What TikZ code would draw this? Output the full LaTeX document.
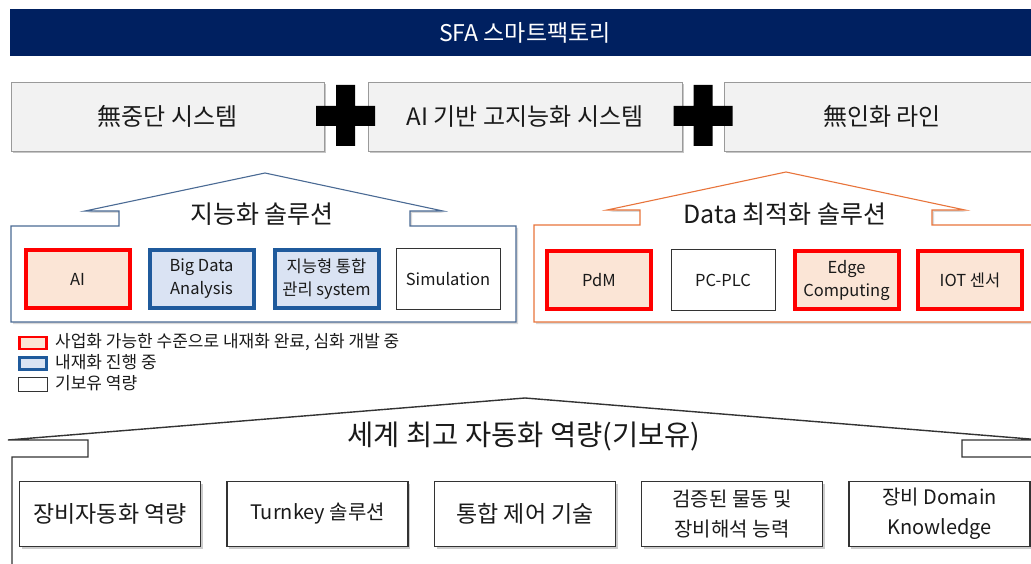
\documentclass[tikz,border=0pt]{standalone}
\usepackage{fontspec}
\setmainfont{Noto Sans CJK KR}
\usetikzlibrary{shadows}
\definecolor{sfanavy}{HTML}{002060}
\definecolor{boxgray}{HTML}{F2F2F2}
\definecolor{edgegray}{HTML}{9A9A9A}
\definecolor{roofblue}{HTML}{4A6A94}
\definecolor{rooforange}{HTML}{E8743B}
\definecolor{donered}{HTML}{FF0000}
\definecolor{donefill}{HTML}{FBE5D6}
\definecolor{wipblue}{HTML}{1F5A9C}
\definecolor{wipfill}{HTML}{DAE3F3}
\definecolor{inkgray}{HTML}{1A1A1A}
\begin{document}
\begin{tikzpicture}[x=1pt,y=-1pt,
    topbar/.style={fill=sfanavy,text=white,minimum width=1030pt,minimum height=47pt,font=\fontsize{23}{27}\selectfont},
    sysbox/.style={draw=edgegray,fill=boxgray,line width=0.8pt,minimum height=69pt,text=inkgray,font=\fontsize{24}{28}\selectfont,
        drop shadow={shadow xshift=2pt,shadow yshift=-2pt,opacity=0.45}},
    housetitle/.style={text=inkgray,font=\fontsize{25}{30}\selectfont},
    solbox/.style={minimum width=104pt,minimum height=58pt,align=center,text=inkgray,font=\fontsize{16.5}{23}\selectfont},
    redbox/.style={solbox,draw=donered,fill=donefill,line width=4pt},
    bluebox/.style={solbox,draw=wipblue,fill=wipfill,line width=4pt},
    plainbox/.style={solbox,draw=black!80,fill=white,line width=1pt,minimum width=104pt,minimum height=60pt},
    keybox/.style={minimum width=27pt,minimum height=12pt,inner sep=0pt},
    keytext/.style={anchor=west,inner sep=0pt,text=inkgray,font=\fontsize{17}{19}\selectfont},
    basebox/.style={draw=black!80,fill=white,line width=1.4pt,minimum width=181pt,minimum height=65pt,align=center,
        text=inkgray,font=\fontsize{20}{30}\selectfont,drop shadow={shadow xshift=2pt,shadow yshift=-2pt,opacity=0.4}}]
    \clip (0,0) rectangle (1031,564);
    % Title bar
    \node[topbar] (sfa) at (525,32.5) {SFA 스마트팩토리};
    % Systems
    \node[sysbox,minimum width=313pt] (nonstop) at (167.5,116.5) {無중단 시스템};
    \node[sysbox,minimum width=314pt] (aibased) at (525,116.5) {AI 기반 고지능화 시스템};
    \node[sysbox,minimum width=316pt] (unmanned) at (882,116.5) {無인화 라인};
    % Plus signs
    \foreach \px in {345.5,703}
        \fill[black] (\px-9.5,85) rectangle (\px+9.5,146) (\px-29.5,106) rectangle (\px+29.5,126);
    % Smart solution house
    \draw[roofblue,line width=1.1pt,fill=white,drop shadow={shadow xshift=2pt,shadow yshift=-2pt,opacity=0.3}]
        (265,173) -- (443,211) -- (410,211) -- (410,226) -- (516,226) -- (516,322) -- (11,322)
        -- (11,226) -- (119,226) -- (119,211) -- (85,211) -- cycle;
    \node[housetitle] (smart) at (262,214) {지능화 솔루션};
    \node[redbox] (ai) at (77.5,279) {AI};
    \node[bluebox] (bigdata) at (201.5,279) {Big Data\\Analysis};
    \node[bluebox] (mgmt) at (326.5,279) {지능형 통합\\관리 system};
    \node[plainbox] (sim) at (448,279) {Simulation};
    % Data solution house
    \draw[rooforange,line width=1.1pt,fill=white,drop shadow={shadow xshift=2pt,shadow yshift=-2pt,opacity=0.3}]
        (786,172) -- (965,210) -- (932,210) -- (932,225) -- (1038,225) -- (1038,322) -- (534,322)
        -- (534,225) -- (640,225) -- (640,210) -- (607,210) -- cycle;
    \node[housetitle] (datasol) at (785,214) {Data 최적화 솔루션};
    \node[redbox] (pdm) at (599,280) {PdM};
    \node[plainbox] (pcplc) at (723,280) {PC-PLC};
    \node[redbox] (edge) at (846.5,280) {Edge\\Computing};
    \node[redbox] (iot) at (970,280) {IOT 센서};
    % Legend
    \node[keybox,draw=donered,fill=donefill,line width=2.5pt] (keyred) at (33,343) {};
    \node[keybox,draw=wipblue,fill=wipfill,line width=2.5pt] (keyblue) at (33,363.5) {};
    \node[keybox,draw=black!80,fill=white,line width=0.8pt,minimum width=29pt,minimum height=14pt] (keyown) at (33,384.5) {};
    \node[keytext] (keyredtxt) at (55,342) {사업화 가능한 수준으로 내재화 완료, 심화 개발 중};
    \node[keytext] (keybluetxt) at (55,362.5) {내재화 진행 중};
    \node[keytext] (keyowntxt) at (55,383.5) {기보유 역량};
    % Base house
    \draw[black!80,line width=1.4pt,fill=white]
        (1038,600) -- (1038,457) -- (962,457) -- (962,440) -- (1042,440) -- (525,398) -- (8,440)
        -- (88,440) -- (88,457) -- (12,457) -- (12,600);
    \node[housetitle,font=\fontsize{28.5}{32}\selectfont] (base) at (524,437) {세계 최고 자동화 역량(기보유)};
    \node[basebox,font=\fontsize{23}{30}\selectfont] (equip) at (110,514) {장비자동화 역량};
    \node[basebox] (turnkey) at (317.5,514) {Turnkey 솔루션};
    \node[basebox,font=\fontsize{23}{30}\selectfont] (control) at (525,514) {통합 제어 기술};
    \node[basebox] (logistics) at (732,514) {검증된 물동 및\\장비해석 능력};
    \node[basebox] (domain) at (939.5,514) {장비 Domain\\Knowledge};
\end{tikzpicture}
\end{document}
